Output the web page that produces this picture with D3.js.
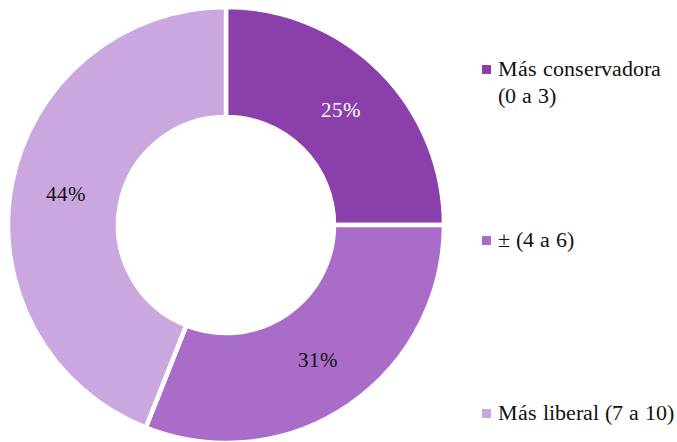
<!DOCTYPE html>
<html>
<head>
<meta charset="utf-8">
<script src="https://cdn.jsdelivr.net/npm/d3@7/dist/d3.min.js"></script>
<style>
  @font-face {
    font-family: "LabelSerif";
    src: local("Liberation Serif"), local("LiberationSerif"), local("LiberationSerif-Regular"),
         local("Liberation Serif Regular"), local("Times New Roman"), local("Tinos");
  }
</style>
</head>
<body style="margin:0">
<svg id="chart" width="677" height="442"></svg>
<script>
// Ideological self-placement shares
const categories = ["Más conservadora (0 a 3)", "± (4 a 6)", "Más liberal (7 a 10)"];
const values = [25, 31, 44];
const colors = ["#8a3fab", "#a96cc9", "#cba7e0"];
const labelColors = ["#ffffff", "#111111", "#111111"];
// Legend lines (first entry wraps onto two lines)
const legendLines = [["Más conservadora", "(0 a 3)"], ["± (4 a 6)"], ["Más liberal (7 a 10)"]];
const legendRowY = [76, 247, 420];

const fontStack = '"LabelSerif", "Liberation Serif", "Times New Roman"';

const svg = d3.select("#chart");
const cx = 226, cy = 225;
const outerR = 218, innerR = 108;

const pie = d3.pie().sort(null).value(d => d);
const arc = d3.arc().innerRadius(innerR).outerRadius(outerR);
const labelArc = d3.arc().innerRadius(163).outerRadius(163);
const arcs = pie(values);

svg.append("g")
  .attr("transform", `translate(${cx},${cy})`)
  .selectAll("path")
  .data(arcs)
  .join("path")
  .attr("d", arc)
  .attr("fill", (d, i) => colors[i])
  .attr("stroke", "#fff")
  .attr("stroke-width", 4.5)
  .attr("stroke-linejoin", "miter");

// Percentage labels at each slice's mid-ring centroid
const pctData = arcs.map((d, i) => {
  const [x, y] = labelArc.centroid(d);
  return { x: cx + x, y: cy + y + 7, text: d.data + "%", fill: labelColors[i] };
});

// Legend swatches
svg.selectAll("rect.swatch")
  .data(categories)
  .join("rect")
  .attr("class", "swatch")
  .attr("x", 482)
  .attr("y", (d, i) => legendRowY[i] - 11)
  .attr("width", 9)
  .attr("height", 9)
  .attr("fill", (d, i) => colors[i]);

const legendData = [];
legendLines.forEach((lines, i) => {
  lines.forEach((t, j) => legendData.push({ x: 498, y: legendRowY[i] + j * 27, text: t }));
});

svg.selectAll("text.pct")
  .data(pctData)
  .join("text")
  .attr("class", "pct")
  .attr("x", d => d.x)
  .attr("y", d => d.y)
  .attr("text-anchor", "middle")
  .attr("font-size", 21)
  .attr("font-family", fontStack)
  .style("font-family", fontStack)
  .attr("fill", d => d.fill)
  .text(d => d.text);

svg.selectAll("text.leg")
  .data(legendData)
  .join("text")
  .attr("class", "leg")
  .attr("x", d => d.x)
  .attr("y", d => d.y)
  .attr("font-size", 22)
  .attr("font-family", fontStack)
  .style("font-family", fontStack)
  .attr("fill", "#111")
  .text(d => d.text);

// Make sure the serif face is resolved, then re-apply it
if (document.fonts && document.fonts.load) {
  Promise.all([
    document.fonts.load('22px "LabelSerif"'),
    document.fonts.load('22px "Liberation Serif"')
  ]).then(() => {
    svg.selectAll("text").style("font-family", fontStack);
  }).catch(() => {});
}
</script>
</body>
</html>
